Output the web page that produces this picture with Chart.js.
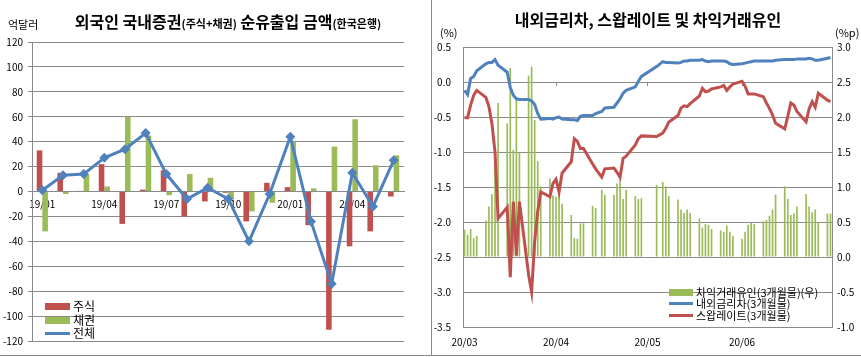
<!DOCTYPE html>
<html><head><meta charset="utf-8">
<script src="https://cdn.jsdelivr.net/npm/chart.js@4.4.1/dist/chart.umd.min.js"></script>
<style>
html,body{margin:0;padding:0;background:#fff}
body{width:861px;height:357px;overflow:hidden;position:relative;font-family:"Noto Sans CJK KR","Noto Sans",sans-serif;color:#000}
.wrap{position:absolute;top:0;height:357px}
#w1{left:0;width:430px}
#w2{left:432px;width:429px}
.sep{position:absolute;left:431px;top:0;width:1px;height:356px;background:#8a8a8a}
.bot{position:absolute;left:0;top:355px;width:861px;height:1px;background:#8a8a8a}
.t{position:absolute;white-space:nowrap;line-height:1}
.title{font-weight:bold;font-size:16px;transform:translateX(-50%)}
.title small{font-size:11px;font-weight:bold}
.unit{font-size:11px}
.lg{position:absolute;white-space:nowrap;font-size:12px;line-height:1;display:flex;align-items:center}
.sw{display:inline-block;margin-right:3px}
</style>
</head><body>
<div class="wrap" id="w1"><canvas id="c1" width="430" height="357"></canvas></div>
<div class="wrap" id="w2"><canvas id="c2" width="429" height="357"></canvas></div>
<div class="sep"></div><div class="bot"></div>

<div class="t title" style="left:228px;top:13px">외국인 국내증권<small>(주식+채권)</small> 순유출입 금액<small>(한국은행)</small></div>
<div class="t unit" style="left:8px;top:19px">억달러</div>

<div class="lg" style="left:45px;top:300px"><span class="sw" style="width:25px;height:7px;background:#C0504D"></span>주식</div>
<div class="lg" style="left:45px;top:314px"><span class="sw" style="width:25px;height:7px;background:#9BBB59"></span>채권</div>
<div class="lg" style="left:45px;top:327px"><span class="sw" style="width:25px;height:3px;background:#4F81BD"></span>전체</div>

<div class="t title" style="left:648px;top:11px">내외금리차, 스왑레이트 및 차익거래유인</div>
<div class="t unit" style="left:440px;top:27px">(%)</div>
<div class="t unit" style="left:835px;top:27px">(%p)</div>

<div class="lg" style="left:669px;top:287px;font-size:11px"><span class="sw" style="width:24px;height:7px;background:#9BBB59"></span>차익거래유인(3개월물)(우)</div>
<div class="lg" style="left:669px;top:298px;font-size:11px"><span class="sw" style="width:24px;height:3px;background:#4F81BD"></span>내외금리차(3개월물)</div>
<div class="lg" style="left:669px;top:310px;font-size:11px"><span class="sw" style="width:24px;height:3px;background:#C0504D"></span>스왑레이트(3개월물)</div>

<script>
// ---------- Left chart data ----------
const months = ['19/01','19/02','19/03','19/04','19/05','19/06','19/07','19/08','19/09','19/10','19/11','19/12','20/01','20/02','20/03','20/04','20/05','20/06'];
const stocks = [33, 15, 0.5, 22, -26, 1.5, 17, -20, -8, -1, -24, 7, 3.5, -27, -111, -44, -32, -4];
const bonds  = [-32, -2, 14, 4, 60, 45, -3, 14, 11, -6, -16, -9, 40, 2.5, 36, 58, 21, 29];
const total  = [1, 13, 14, 27, 34, 47, 14, -6, 3, -6, -40, -2, 44, -24, -74, 15, -12, 25];
const leftTicks = {min:-120, max:120, step:20};

// ---------- Right chart data ----------
const tradeDays = ['03/02','03/03','03/04','03/05','03/06',
'03/09','03/10','03/11','03/12','03/13',
'03/16','03/17','03/18','03/19','03/20',
'03/23','03/24','03/25','03/26','03/27',
'03/30','03/31','04/01','04/02','04/03',
'04/06','04/07','04/08','04/09','04/10',
'04/13','04/14','04/16','04/17',
'04/20','04/21','04/22','04/23','04/24',
'04/27','04/28','04/29',
'05/04','05/06','05/07','05/08',
'05/11','05/12','05/13','05/14','05/15',
'05/18','05/19','05/20','05/21','05/22',
'05/25','05/26','05/27','05/28','05/29',
'06/01','06/02','06/03','06/04','06/05',
'06/08','06/09','06/10','06/11','06/12',
'06/15','06/16','06/17','06/18','06/19',
'06/22','06/23','06/24','06/25','06/26',
'06/29','06/30'];
const arbitrage = [0.39,0.32,0.40,0.27,0.30,
0.52,0.72,0.90,1.35,2.20,
1.91,2.70,1.53,2.26,1.49,
2.59,2.72,1.96,1.37,1.01,
1.12,0.88,0.86,0.92,0.76,
0.60,0.27,0.26,0.48,0.48,
0.73,0.70,0.96,0.89,
0.89,1.05,1.10,0.83,0.96,
0.87,0.83,0.84,
1.03,1.07,1.01,0.87,
0.82,0.68,0.63,0.68,0.63,
0.55,0.42,0.47,0.46,0.40,
0.38,0.36,0.45,0.36,0.30,
0.26,0.36,0.46,0.49,0.47,
0.51,0.53,0.59,0.68,0.89,
1.01,0.83,0.60,0.62,0.72,
0.90,0.72,0.64,0.68,0.50,
0.62,0.62];
const rateGap = [-0.12,-0.18,0.05,0.08,0.16,
0.26,0.28,0.28,0.32,0.24,
0.14,-0.08,-0.19,-0.24,-0.25,
-0.25,-0.27,-0.32,-0.45,-0.53,
-0.52,-0.53,-0.51,-0.50,-0.53,
-0.54,-0.54,-0.55,-0.49,-0.48,
-0.48,-0.45,-0.42,-0.37,
-0.36,-0.30,-0.24,-0.16,-0.12,
-0.07,0.01,0.08,
0.22,0.29,0.28,0.28,
0.27,0.28,0.30,0.30,0.31,
0.31,0.32,0.30,0.29,0.30,
0.30,0.30,0.29,0.26,0.25,
0.26,0.27,0.28,0.29,0.30,
0.30,0.30,0.30,0.30,0.31,
0.32,0.32,0.32,0.32,0.33,
0.33,0.34,0.33,0.31,0.31,
0.34,0.35];
const swapRate = [-0.51,-0.51,-0.33,-0.19,-0.12,
-0.22,-0.35,-0.60,-1.00,-1.95,
-1.79,-2.79,-1.71,-2.48,-1.71,
-2.75,-3.00,-2.28,-1.85,-1.57,
-1.64,-1.45,-1.39,-1.57,-1.30,
-1.14,-0.81,-0.85,-0.95,-0.95,
-1.17,-1.24,-1.36,-1.24,
-1.23,-1.29,-1.36,-1.09,-1.06,
-0.90,-0.81,-0.77,
-0.78,-0.73,-0.66,-0.57,
-0.48,-0.37,-0.34,-0.35,-0.31,
-0.20,-0.09,-0.14,-0.13,-0.10,
-0.07,-0.05,-0.12,-0.07,-0.03,
0.01,-0.06,-0.17,-0.17,-0.17,
-0.21,-0.30,-0.38,-0.47,-0.59,
-0.67,-0.49,-0.30,-0.33,-0.42,
-0.57,-0.38,-0.28,-0.36,-0.16,
-0.26,-0.28];
const rightLeftTicks = {min:-3.5, max:0.5, step:0.5};
const rightRightTicks = {min:-1.0, max:3.0, step:0.5};

// calendar axis (Mar 2 .. Jun 30, 2020)
const calendar = [];
for (let t = Date.UTC(2020,2,2); t <= Date.UTC(2020,5,30); t += 86400000) {
  const d = new Date(t);
  calendar.push(String(d.getUTCMonth()+1).padStart(2,'0') + '/' + String(d.getUTCDate()).padStart(2,'0'));
}
function onCalendar(vals){ return calendar.map(c => { const i = tradeDays.indexOf(c); return i < 0 ? null : vals[i]; }); }
const isMonthStart = i => i === 0 || calendar[i].endsWith('/01');

Chart.defaults.font.family = '"Noto Sans CJK KR","Noto Sans",sans-serif';
Chart.defaults.color = '#000';
const GRID = '#8a8a8a';

new Chart(document.getElementById('c1'), {
  type: 'bar',
  data: {
    labels: months,
    datasets: [
      {type:'line', label:'전체', data: total, borderColor:'#4F81BD', backgroundColor:'#4F81BD', borderWidth:3,
       pointStyle:'rectRot', pointRadius:5, pointBorderWidth:0, pointBackgroundColor:'#4F81BD', tension:0, order:0},
      {label:'주식', data: stocks, backgroundColor:'#C0504D', categoryPercentage:0.54, barPercentage:1, order:1},
      {label:'채권', data: bonds, backgroundColor:'#9BBB59', categoryPercentage:0.54, barPercentage:1, order:1}
    ]
  },
  options: {
    responsive:false, animation:false, devicePixelRatio:1,
    layout:{padding:{left:0, right:26, top:42, bottom:16}},
    plugins:{legend:{display:false}, tooltip:{enabled:false}},
    scales:{
      x:{position:{y:0}, grid:{display:false, drawTicks:false}, border:{color:GRID},
         ticks:{autoSkip:false, maxRotation:0, padding:7, font:{size:10}, callback:(v,i)=> i%3===0 ? months[i] : ''},
         afterFit:s=>{s.height=0;}},
      y:{min:leftTicks.min, max:leftTicks.max, ticks:{stepSize:leftTicks.step, font:{size:10}, padding:5},
         grid:{color:GRID, tickLength:4}, border:{color:GRID},
         afterFit:s=>{s.width=32;}}
    }
  }
});

new Chart(document.getElementById('c2'), {
  type: 'bar',
  data: {
    labels: calendar,
    datasets: [
      {type:'line', label:'스왑레이트(3개월물)', data:onCalendar(swapRate), yAxisID:'y', borderColor:'#C0504D', borderWidth:3,
       pointRadius:0, spanGaps:true, tension:0, order:0},
      {type:'line', label:'내외금리차(3개월물)', data:onCalendar(rateGap), yAxisID:'y', borderColor:'#4F81BD', borderWidth:3,
       pointRadius:0, spanGaps:true, tension:0, order:1},
      {label:'차익거래유인(3개월물)(우)', data:onCalendar(arbitrage), yAxisID:'y2', backgroundColor:'#9BBB59',
       categoryPercentage:1, barPercentage:0.55, order:2}
    ]
  },
  options: {
    responsive:false, animation:false, devicePixelRatio:1,
    layout:{padding:{left:0, right:0, top:47, bottom:0}},
    plugins:{legend:{display:false}, tooltip:{enabled:false}},
    scales:{
      x:{grid:{display:false, drawTicks:false}, border:{display:false},
         ticks:{autoSkip:false, maxRotation:0, padding:9, font:{size:10},
                callback:(v,i)=> isMonthStart(i) ? '20/' + calendar[i].slice(0,2) : ''},
         afterFit:s=>{s.height=30;}},
      x2:{type:'category', axis:'x', labels:calendar, position:{y:0}, offset:true,
         grid:{display:true, offset:false, drawOnChartArea:false, drawTicks:true, tickLength:4,
               tickColor:c=> (c.index>0 && isMonthStart(c.index)) ? GRID : 'rgba(0,0,0,0)'},
         border:{display:false}, ticks:{display:true, autoSkip:false, maxRotation:0, callback:()=>''},
         afterFit:s=>{s.height=0;}},
      y:{position:'left', min:rightLeftTicks.min, max:rightLeftTicks.max,
         ticks:{stepSize:rightLeftTicks.step, font:{size:10}, padding:12, callback:v=>Number(v).toFixed(1)},
         grid:{color:GRID, drawTicks:false}, border:{color:GRID},
         afterFit:s=>{s.width=31;}},
      y2:{position:'right', min:rightRightTicks.min, max:rightRightTicks.max,
         ticks:{stepSize:rightRightTicks.step, font:{size:10}, padding:5, callback:v=>Number(v).toFixed(1)},
         grid:{drawOnChartArea:false, drawTicks:false}, border:{color:GRID},
         afterFit:s=>{s.width=29;}}
    }
  }
});
</script>
</body></html>
